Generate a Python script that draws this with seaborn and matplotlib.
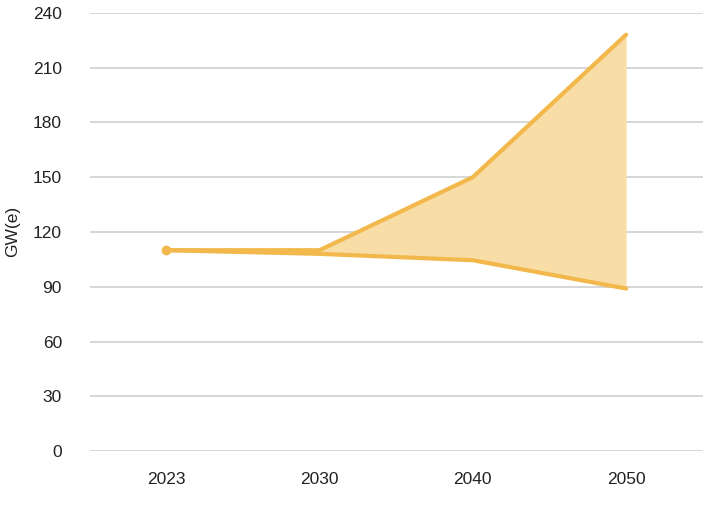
import matplotlib
matplotlib.use("Agg")
import matplotlib.pyplot as plt
import numpy as np
import pandas as pd
import seaborn as sns

years = ["2023", "2030", "2040", "2050"]
high_gw = [110, 110, 150, 228]
low_gw = [110, 108, 104.5, 89]

line_color = "#F2B84B"
fill_color = "#F8DDA6"

sns.set_theme(style="white")
plt.rcParams["font.family"] = ["Liberation Sans", "DejaVu Sans"]

df = pd.DataFrame({"Year": years, "High": high_gw, "Low": low_gw})
x = np.arange(len(years))

fig, ax = plt.subplots(figsize=(7.12, 5.12), dpi=100)
fig.subplots_adjust(left=0.126, right=0.987, top=0.975, bottom=0.119)

# Range between scenarios, starting from 2030
ax.fill_between(x[1:], df.Low[1:], df.High[1:], color=fill_color, linewidth=0, zorder=2)
sns.lineplot(x=x, y=df.High, ax=ax, color=line_color, linewidth=3, zorder=3)
sns.lineplot(x=x, y=df.Low, ax=ax, color=line_color, linewidth=3, zorder=3)
ax.plot(x[0], df.Low[0], "o", color=line_color, markersize=6, zorder=4)

ax.set_xlim(-0.5, len(years) - 0.5)
ax.set_ylim(0, 240)
ax.set_xticks(x)
ax.set_xticklabels(years)
ax.set_yticks(np.arange(0, 241, 30))
ax.yaxis.grid(True, color="#D0D0D0", linewidth=1.2, zorder=0)
ax.set_axisbelow(True)
for s in ax.spines.values():
    s.set_visible(False)
ax.tick_params(axis="both", length=0, labelsize=12.5, colors="#222222")
ax.tick_params(axis="y", pad=20)
ax.tick_params(axis="x", pad=15)
ax.set_xlabel("")
ax.set_ylabel("GW(e)", fontsize=12.5, color="#222222", labelpad=9)

fig.savefig("out.png", dpi=100)
